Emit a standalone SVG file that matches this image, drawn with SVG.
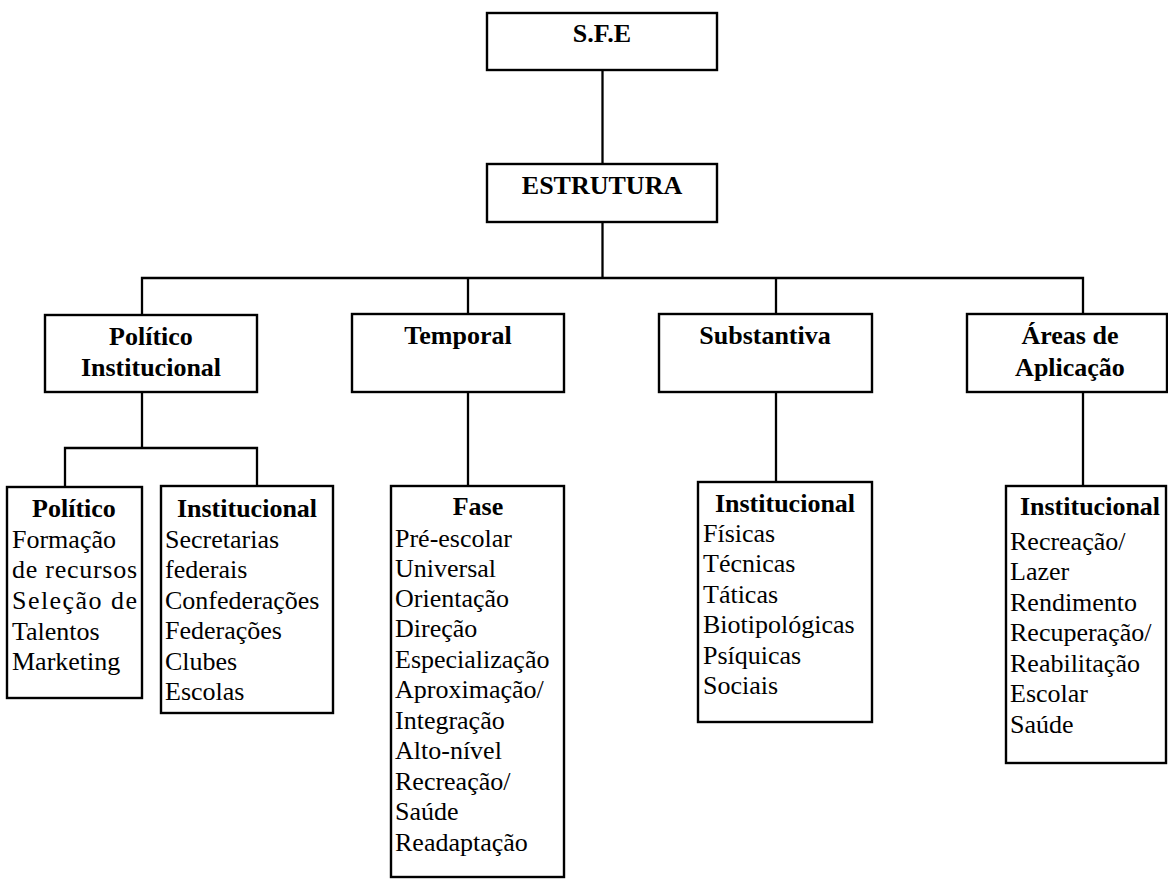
<svg xmlns="http://www.w3.org/2000/svg" width="1168" height="888" viewBox="0 0 1168 888">
<style>
.box{fill:#fff;stroke:#000;stroke-width:2.4}
.con{fill:none;stroke:#000;stroke-width:2.3}
text{font-family:'Liberation Serif','Times New Roman',Times,serif;font-size:26px;fill:#000}
.b{font-weight:bold;text-anchor:middle}
</style>
<rect width="1168" height="888" fill="#fff"/>
<g id="connectors">
<line class="con" x1="602.5" y1="70" x2="602.5" y2="164"/>
<line class="con" x1="602.5" y1="222" x2="602.5" y2="278"/>
<polyline class="con" points="142,315 142,278 1083,278 1083,314"/>
<line class="con" x1="468" y1="278" x2="468" y2="314"/>
<line class="con" x1="776" y1="278" x2="776" y2="314"/>
<line class="con" x1="142" y1="392" x2="142" y2="448"/>
<polyline class="con" points="65,487 65,448 257,448 257,486"/>
<line class="con" x1="468" y1="392" x2="468" y2="486"/>
<line class="con" x1="776" y1="392" x2="776" y2="482"/>
<line class="con" x1="1083" y1="392" x2="1083" y2="486"/>
</g>
<g id="sfe">
<rect class="box" x="487" y="13" width="230" height="57"/>
<text class="b" x="602" y="42">S.F.E</text>
</g>
<g id="estrutura">
<rect class="box" x="487" y="164" width="230" height="58"/>
<text class="b" x="602" y="194">ESTRUTURA</text>
</g>
<g id="politico-institucional">
<rect class="box" x="45" y="315" width="212" height="77"/>
<text class="b" x="151" y="345">Político</text>
<text class="b" x="151" y="376">Institucional</text>
</g>
<g id="temporal">
<rect class="box" x="352" y="314" width="212" height="78"/>
<text class="b" x="458" y="344">Temporal</text>
</g>
<g id="substantiva">
<rect class="box" x="659" y="314" width="213" height="78"/>
<text class="b" x="765" y="344">Substantiva</text>
</g>
<g id="areas">
<rect class="box" x="967" y="314" width="200" height="78"/>
<text class="b" x="1070" y="344">Áreas de</text>
<text class="b" x="1070" y="376">Aplicação</text>
</g>
<g id="politico">
<rect class="box" x="7" y="487" width="135" height="211"/>
<text class="b" x="74" y="517">Político</text>
<text x="12" y="548">Formação</text>
<text x="12" y="578" textLength="125" lengthAdjust="spacing">de recursos</text>
<text x="12" y="609" textLength="125" lengthAdjust="spacing">Seleção de</text>
<text x="12" y="640">Talentos</text>
<text x="12" y="670">Marketing</text>
</g>
<g id="institucional-1">
<rect class="box" x="161" y="486" width="172" height="227"/>
<text class="b" x="247" y="517">Institucional</text>
<text x="165" y="548">Secretarias</text>
<text x="165" y="578">federais</text>
<text x="165" y="609">Confederações</text>
<text x="165" y="639">Federações</text>
<text x="165" y="670">Clubes</text>
<text x="165" y="700">Escolas</text>
</g>
<g id="fase">
<rect class="box" x="391" y="486" width="173" height="391"/>
<text class="b" x="478" y="515">Fase</text>
<text x="395" y="547">Pré-escolar</text>
<text x="395" y="577">Universal</text>
<text x="395" y="607">Orientação</text>
<text x="395" y="637">Direção</text>
<text x="395" y="668">Especialização</text>
<text x="395" y="698">Aproximação/</text>
<text x="395" y="729">Integração</text>
<text x="395" y="759">Alto-nível</text>
<text x="395" y="790">Recreação/</text>
<text x="395" y="820">Saúde</text>
<text x="395" y="851">Readaptação</text>
</g>
<g id="institucional-2">
<rect class="box" x="698" y="482" width="174" height="240"/>
<text class="b" x="785" y="512">Institucional</text>
<text x="703" y="542">Físicas</text>
<text x="703" y="572">Técnicas</text>
<text x="703" y="603">Táticas</text>
<text x="703" y="633">Biotipológicas</text>
<text x="703" y="664">Psíquicas</text>
<text x="703" y="694">Sociais</text>
</g>
<g id="institucional-3">
<rect class="box" x="1006" y="486" width="160" height="277"/>
<text class="b" x="1090" y="515">Institucional</text>
<text x="1010" y="550">Recreação/</text>
<text x="1010" y="580">Lazer</text>
<text x="1010" y="611">Rendimento</text>
<text x="1010" y="641">Recuperação/</text>
<text x="1010" y="672">Reabilitação</text>
<text x="1010" y="702">Escolar</text>
<text x="1010" y="733">Saúde</text>
</g>
</svg>
